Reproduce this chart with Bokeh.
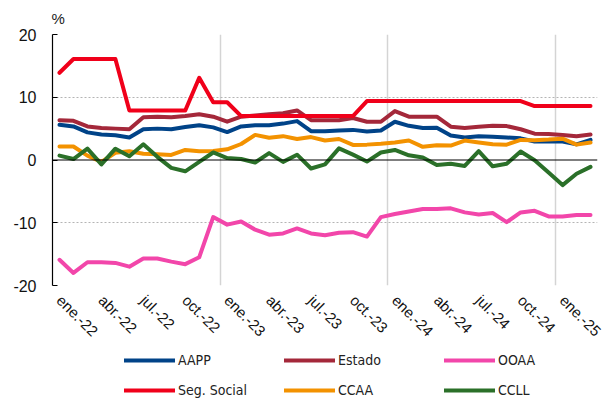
import numpy as np
from bokeh.plotting import figure
from bokeh.layouts import column
from bokeh.models import (Range1d, FixedTicker, Span, Legend, LegendItem, Title,
                          ColumnDataSource)
from bokeh.embed import file_html
from bokeh.resources import INLINE

# ---- data ----
month_names = ["ene.", "feb.", "mar.", "abr.", "may.", "jun.",
               "jul.", "ago.", "sep.", "oct.", "nov.", "dic."]
years = ["22", "23", "24", "25"]
n_months = 39  # ene.-22 .. mar.-25

aapp = [5.6, 5.35, 4.4, 4.05, 3.95, 3.6, 4.9, 5.0, 4.9, 5.25, 5.55,
        5.2, 4.45, 5.35, 5.55, 5.55, 5.8, 6.2, 4.6, 4.6, 4.7, 4.8, 4.55, 4.7, 6.1,
        5.45, 5.1, 5.15, 3.9, 3.6, 3.8, 3.7, 3.6, 3.45, 2.95, 2.95, 2.95, 2.5, 3.2]
estado = [6.35, 6.25, 5.35, 5.1, 5.0, 4.9, 6.8, 6.9, 6.8, 7.0, 7.3,
          6.9, 6.1, 6.9, 7.1, 7.3, 7.45, 7.9, 6.35, 6.35, 6.35, 6.7, 6.1, 6.1, 7.8,
          6.9, 6.9, 6.9, 5.3, 5.1, 5.3, 5.45, 5.4, 4.9, 4.2, 4.15, 4.0, 3.8, 4.05]
ooaa = [-15.9, -18.0, -16.3, -16.3, -16.4, -17.0, -15.7, -15.7, -16.2, -16.6, -15.5,
        -9.1, -10.3, -9.8, -11.1, -11.9, -11.7, -10.9, -11.7, -12.0, -11.6, -11.5, -12.2, -9.1, -8.6,
        -8.2, -7.8, -7.8, -7.7, -8.35, -8.7, -8.45, -9.9, -8.35, -8.1, -9.0, -9.0, -8.75, -8.75]
segsoc = [13.9, 16.1, 16.1, 16.1, 16.1, 7.9, 7.9, 7.9, 7.9, 7.9, 13.1,
          9.2, 9.2, 7.0, 7.0, 7.0, 7.0, 7.0, 7.0, 7.0, 7.0, 7.0, 9.4, 9.4, 9.4,
          9.4, 9.4, 9.4, 9.4, 9.4, 9.4, 9.4, 9.4, 9.4, 8.6, 8.6, 8.6, 8.6, 8.6]
ccaa = [2.15, 2.15, 0.7, -0.3, 1.15, 1.4, 1.0, 0.9, 0.8, 1.6, 1.4,
        1.45, 1.7, 2.55, 4.0, 3.55, 3.8, 3.35, 3.65, 3.1, 3.35, 2.4, 2.45, 2.6, 2.8,
        3.1, 2.1, 2.35, 2.3, 3.1, 2.8, 2.5, 2.45, 3.2, 3.15, 3.25, 3.4, 2.45, 2.8]
ccll = [0.7, 0.15, 1.8, -0.7, 1.8, 0.6, 2.5, 0.5, -1.25, -1.8, -0.3,
        1.2, 0.3, 0.15, -0.4, 1.1, -0.3, 0.85, -1.35, -0.7, 1.85, 0.85, -0.25, 1.2, 1.6,
        0.75, 0.4, -0.8, -0.6, -0.95, 1.4, -1.0, -0.6, 1.35, -0.05, -2.0, -4.0, -2.2, -1.1]

series_names = ["AAPP", "Estado", "OOAA", "Seg. Social", "CCAA", "CCLL"]
series_values = [aapp, estado, ooaa, segsoc, ccaa, ccll]
series_colors = ["#004388", "#A4283A", "#F246AA", "#F0001A", "#F39200", "#2B7029"]

y_ticks = [-20, -10, 0, 10, 20]
y_tick_labels = {-20: "-20", -10: "-10", 0: "0", 10: "10", 20: "20"}

x_idx = list(range(n_months))
tick_pos = list(range(0, n_months, 3))
tick_labels = {i: f"{month_names[i % 12]}-{years[i // 12]}" for i in tick_pos}

# ---- main figure ----
p = figure(width=614, height=348, output_backend="svg", toolbar_location=None,
           x_range=Range1d(-0.5, n_months - 0.5), y_range=Range1d(-20, 20),
           min_border_left=52, min_border_right=17, min_border_top=34,
           min_border_bottom=60)
p.outline_line_color = None
p.background_fill_color = "white"
p.border_fill_color = "white"

p.title = Title(text="%", align="left", offset=-1, standoff=15,
                text_font="Liberation Sans", text_font_size="15px",
                text_font_style="normal", text_color="#222222")

# grids
p.xgrid.ticker = FixedTicker(ticks=[11.5, 23.5, 35.5])
p.xgrid.grid_line_color = "#d4d4d4"
p.xgrid.grid_line_width = 1.5
p.ygrid.ticker = FixedTicker(ticks=[-20, -10, 10, 20])
p.ygrid.grid_line_color = "#b4b4b4"
p.ygrid.grid_line_dash = "2 2"
p.ygrid.grid_line_width = 1

# zero line
p.add_layout(Span(location=0, dimension="width", line_color="black", line_width=1.2))

# y axis
p.yaxis.ticker = FixedTicker(ticks=y_ticks)
p.yaxis.major_label_overrides = y_tick_labels
p.yaxis.axis_line_color = "black"
p.yaxis.axis_line_width = 1.2
p.yaxis.major_tick_out = 0
p.yaxis.major_tick_in = 5
p.yaxis.major_tick_line_color = "black"
p.yaxis.minor_tick_line_color = None
p.yaxis.major_label_standoff = 16
p.yaxis.major_label_text_font = "Liberation Sans"
p.yaxis.major_label_text_font_size = "16px"
p.yaxis.major_label_text_color = "#111111"

# x axis
p.xaxis.ticker = FixedTicker(ticks=tick_pos)
p.xaxis.major_label_overrides = tick_labels
p.xaxis.axis_line_color = None
p.xaxis.major_tick_line_color = None
p.xaxis.minor_tick_line_color = None
p.xaxis.major_label_orientation = -np.pi / 4
p.xaxis.major_label_standoff = 6
p.xaxis.major_label_text_font = "Liberation Sans"
p.xaxis.major_label_text_font_size = "15px"
p.xaxis.major_label_text_color = "#111111"

for name, vals, col in zip(series_names, series_values, series_colors):
    src = ColumnDataSource(dict(x=x_idx, y=vals))
    p.line("x", "y", source=src, line_color=col, line_width=4,
           line_join="round", line_cap="round")

# ---- legend strip (frame aligned with the main plot's frame) ----
pl = figure(width=614, height=53, output_backend="svg", toolbar_location=None,
            x_axis_type=None, y_axis_type=None,
            x_range=Range1d(-0.5, n_months - 0.5), y_range=Range1d(-20, 20),
            min_border_left=52, min_border_right=17, min_border_top=0,
            min_border_bottom=0)
pl.outline_line_color = None
pl.xgrid.visible = False
pl.ygrid.visible = False

items = []
for name, vals, col in zip(series_names, series_values, series_colors):
    src = ColumnDataSource(dict(x=x_idx, y=vals))
    r = pl.line("x", "y", source=src, line_color=col, line_width=4,
                line_cap="round", visible=False)
    items.append(LegendItem(label=name, renderers=[r]))

legend = Legend(items=items, location=(72, 3), orientation="horizontal", ncols=3,
                glyph_width=51, glyph_height=16, label_height=16, label_width=92,
                label_standoff=3, spacing=14, padding=0, margin=0,
                border_line_color=None, background_fill_alpha=0,
                inactive_fill_alpha=0,
                label_text_font="'DejaVu Sans Condensed', 'Liberation Sans', sans-serif",
                label_text_font_size="14px",
                label_text_color="#222222")
pl.add_layout(legend, "center")

layout = column(p, pl, spacing=0)
open("out.html", "w").write(file_html(layout, INLINE))
